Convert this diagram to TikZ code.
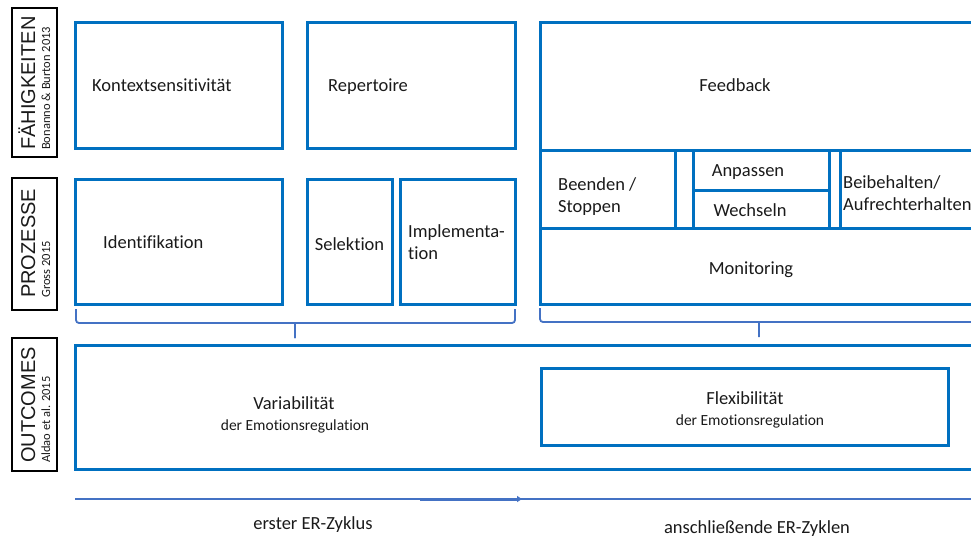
\documentclass[tikz,border=0pt]{standalone}
\usepackage{fontspec}
\setmainfont{Carlito}[Ligatures=NoCommon]
\newfontfamily\arialf{Liberation Sans}
\usetikzlibrary{arrows.meta}
\definecolor{boxblue}{HTML}{0070C0}
\definecolor{linblue}{HTML}{4472C4}
\definecolor{txt}{HTML}{1A1A1A}
\begin{document}
\begin{tikzpicture}[x=1pt,y=-1pt,
 bbox/.style={draw=boxblue, line width=3pt, outer sep=0pt, inner sep=0pt, anchor=north west},
 lbox/.style={draw=black, line width=1.8pt, outer sep=0pt, inner sep=0pt, anchor=north west, minimum width=45},
 lbig/.style={rotate=90, anchor=base west, inner sep=0pt, text=txt, font=\arialf\fontsize{20}{22}\selectfont},
 lsml/.style={rotate=90, anchor=base west, inner sep=0pt, text=txt, font=\fontsize{12.5}{14}\selectfont},
 t/.style={text=txt, font=\fontsize{18.5}{22}\selectfont, inner sep=0pt},
 ts/.style={text=txt, font=\fontsize{15.5}{18}\selectfont, inner sep=0pt},
 brace/.style={draw=linblue, line width=1.8pt, rounded corners=3pt},
 arr/.style={draw=linblue, line width=1.6pt}]
\useasboundingbox (0,0) rectangle (971,539);

% row labels
\node[lbox, minimum height=149] (lf) at (12,8) {};
\node[lbig] (lfT) at (35,150) {FÄHIGKEITEN};
\node[lsml] (lfS) at (50,150) {Bonanno \& Burton 2013};
\node[lbox, minimum height=132] (lp) at (12,178) {};
\node[lbig] (lpT) at (35,298) {PROZESSE};
\node[lsml] (lpS) at (50,298) {Gross 2015};
\node[lbox, minimum height=133] (lo) at (12,338) {};
\node[lbig] (loT) at (35,463) {OUTCOMES};
\node[lsml] (loS) at (50,463) {Aldao et al. 2015};

% Fähigkeiten
\node[bbox, minimum width=207, minimum height=126] (kon) at (75,22) {};
\node[bbox, minimum width=208, minimum height=126] (rep) at (307,22) {};
\node[bbox, minimum width=470, minimum height=128] (fb) at (540,22) {};
\node[t, anchor=base west] (konT) at (92,91) {Kontextsensitivität};
\node[t, anchor=base west] (repT) at (328,91) {Repertoire};
\node[t, anchor=base] (fbT) at (735,91) {Feedback};

% Prozesse
\node[bbox, minimum width=207, minimum height=125] (idf) at (75,179) {};
\node[bbox, minimum width=85, minimum height=125] (sel) at (307,179) {};
\node[bbox, minimum width=115, minimum height=125] (imp) at (400,179) {};
\node[t, anchor=base west] (idfT) at (103,248) {Identifikation};
\node[t, anchor=base] (selT) at (349.5,250) {Selektion};
\node[t, anchor=west, align=left] (impT) at (408,242) {Implementa-\\tion};

\node[bbox, minimum width=135, minimum height=78] (bee) at (540,150) {};
\node[bbox, minimum width=18, minimum height=78] (gap1) at (675,150) {};
\node[bbox, minimum width=136, minimum height=40] (anp) at (693,150) {};
\node[bbox, minimum width=136, minimum height=38] (wec) at (693,190) {};
\node[bbox, minimum width=11, minimum height=78] (gap2) at (829,150) {};
\node[bbox, minimum width=170, minimum height=78] (bei) at (840,150) {};
\node[bbox, minimum width=470, minimum height=76] (mon) at (540,228) {};
\node[t, anchor=west, align=left] (beeT) at (558,197) {Beenden /\\Stoppen};
\node[t, anchor=base] (anpT) at (748,176) {Anpassen};
\node[t, anchor=base] (wecT) at (750,216) {Wechseln};
\node[t, anchor=west, align=left] (beiT) at (843,193) {Beibehalten/\\Aufrechterhalten};
\node[t, anchor=base] (monT) at (751,274) {Monitoring};

% braces
\draw[brace] (76,309) -- (76,323) -- (292,323) .. controls (295,323) .. (295,338);
\draw[brace] (515,309) -- (515,323) -- (298,323) .. controls (295,323) .. (295,338);
\draw[brace] (540,308) -- (540,322) -- (756,322) .. controls (759,322) .. (759,337);
\draw[brace] (990,322) -- (762,322) .. controls (759,322) .. (759,337);

% outcomes
\node[bbox, minimum width=940, minimum height=124] (out) at (75,345) {};
\node[bbox, minimum width=407, minimum height=77] (flx) at (541,368) {};
\node[t, anchor=base] (varT) at (294,409) {Variabilität};
\node[ts, anchor=base] (varS) at (295,430) {der Emotionsregulation};
\node[t, anchor=base] (flxT) at (745,404) {Flexibilität};
\node[ts, anchor=base] (flxS) at (750,425) {der Emotionsregulation};

% timeline
\coordinate (a0) at (75,499);
\coordinate (a1) at (420,499);
\coordinate (a2) at (522,499);
\coordinate (a3) at (980,499);
\draw[arr] (a0) -- (a3);
\draw[draw=linblue, line width=3pt, -{Triangle[length=5pt,width=6pt]}] (a1) -- (a2);
\node[t, anchor=base] (z1) at (313,529) {erster ER-Zyklus};
\node[t, anchor=base] (z2) at (757,533) {anschließende ER-Zyklen};
\end{tikzpicture}
\end{document}
